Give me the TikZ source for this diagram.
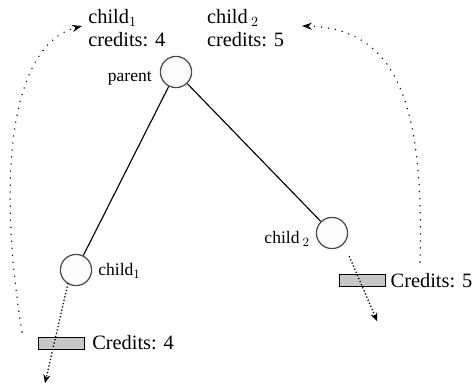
\documentclass[tikz,border=0pt]{standalone}
\usepackage{fontspec}
\setmainfont{Liberation Serif}
\usetikzlibrary{calc,arrows.meta}
\tikzset{
  vertex/.style={circle, draw=black!70, fill=black!1, line width=0.9pt, minimum size=0.78cm, inner sep=0pt},
  creditbox/.style={rectangle, draw=black, fill=black!22, line width=0.6pt, minimum width=1.15cm, minimum height=0.3cm, inner sep=0pt},
  bigtext/.style={font=\fontsize{14.5}{16.5}\selectfont, inner sep=0pt},
  smalltext/.style={font=\fontsize{12.5}{14}\selectfont, inner sep=0pt},
  flow/.style={line width=0.9pt, dash pattern=on 0.9pt off 1.5pt, -{Stealth[length=6pt, width=5pt]}},
  sendback/.style={line width=1.1pt, line cap=round, dash pattern=on 0pt off 5pt, -{Stealth[length=7pt, width=5pt]}}
}

\begin{document}
\begin{tikzpicture}
			%%%%% START %%%%%
			\useasboundingbox (0, 0) rectangle (11.8, 9.75);
			
			\node[vertex] (parent) at (4.4, 7.95) {};
			\node[vertex] (child1) at (1.9, 3.0) {};
			\node[vertex] (child2) at (8.3, 3.925) {};
			
			\draw[line width=0.8pt] (parent) -- (child1);
			\draw[line width=0.8pt] (parent) -- (child2);
			
			\node[smalltext, anchor=east] (parentlbl) at (3.8, 7.78) {parent};
			\node[smalltext, anchor=west] (child1lbl) at (2.45, 2.98) {child$_1$};
			\node[smalltext, anchor=east] (child2lbl) at (7.75, 3.78) {child\,$_2$};
			
			\node[creditbox] (box1) at (1.525, 1.175) {};
			\node[creditbox] (box2) at (9.05, 2.74) {};
			\node[bigtext, anchor=west] (credits1) at (2.3, 1.175) {Credits: 4};
			\node[bigtext, anchor=west] (credits2) at (9.76, 2.74) {Credits: 5};
			
			\node[bigtext, anchor=north west, align=left] (top1) at (2.2, 9.52) {child$_1$\\credits: 4};
			\node[bigtext, anchor=north west, align=left] (top2) at (5.17, 9.52) {child\,$_2$\\credits: 5};
			
			% sent off downwards through the boxes
			\coordinate (out1) at (1.125, 0.17);
			\coordinate (out2) at (9.43, 1.72);
			\draw[flow] ($(child1)+(-0.2,-0.33)$) -- (out1);
			\draw[flow] ($(child2)+(0.43,-0.58)$) -- (out2);
			
			% credits reported back to the top
			\coordinate (back1) at (0.55, 1.45);
			\coordinate (back2) at (10.5, 3.2);
			\coordinate (up1) at (2.05, 9.1);
			\coordinate (up2) at (7.55, 9.1);
			\draw[sendback] (back1) .. controls (-0.1, 5.5) and (0.3, 8.65) .. (up1);
			\draw[sendback] (back2) .. controls (10.6, 7.0) and (10.0, 9.05) .. (up2);
			
			%%%%% END %%%%%
\end{tikzpicture}
\end{document}
